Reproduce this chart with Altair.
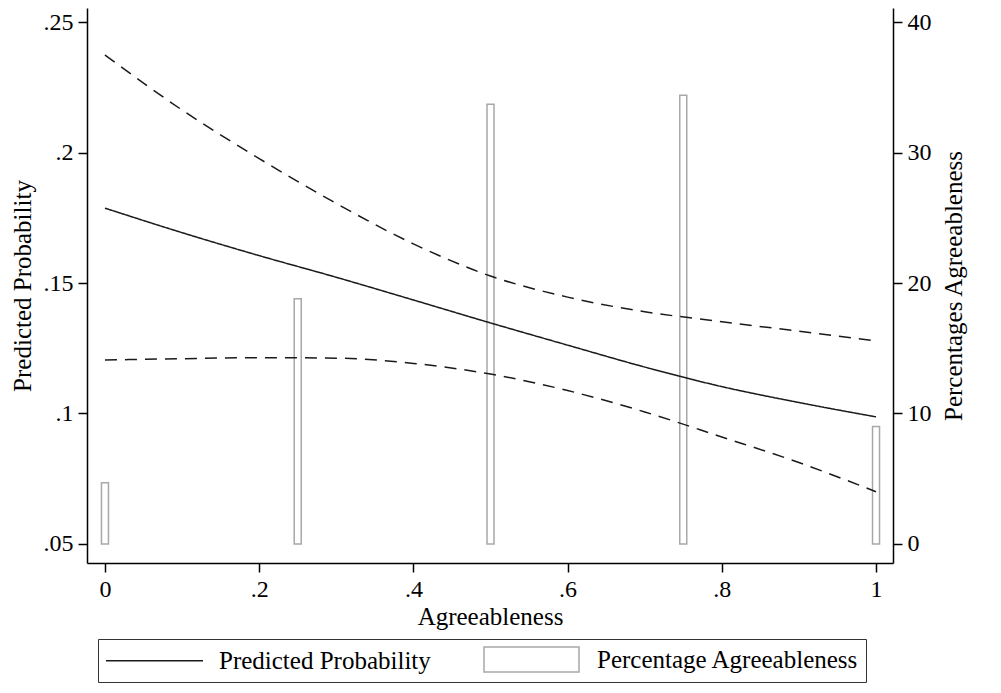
import altair as alt
import pandas as pd

# ---------------- data ----------------
agree_grid = [0.0, 0.1, 0.2, 0.3, 0.4, 0.5, 0.6, 0.7, 0.8, 0.9, 1.0]
pred_prob = [0.1787, 0.1693, 0.1605, 0.1522, 0.1435, 0.1347, 0.1262, 0.1178, 0.1103, 0.1042, 0.0987]
ci_upper = [0.2374, 0.2163, 0.1977, 0.1805, 0.1650, 0.1527, 0.1446, 0.1390, 0.1352, 0.1315, 0.1278]
ci_lower = [0.1205, 0.1210, 0.1214, 0.1212, 0.1192, 0.1151, 0.1088, 0.1006, 0.0910, 0.0812, 0.0700]

bar_x = [0.0, 0.25, 0.5, 0.75, 1.0]
bar_pct = [4.7, 18.8, 33.7, 34.4, 9.0]

legend_labels = ["Predicted Probability", "Percentage Agreeableness"]
x_ticks = [0, 0.2, 0.4, 0.6, 0.8, 1]
y_ticks = [0.05, 0.1, 0.15, 0.2, 0.25]
pct_ticks = [0, 10, 20, 30, 40]

rows = []
for name, vals in (("pred", pred_prob), ("upper", ci_upper), ("lower", ci_lower)):
    for x, v in zip(agree_grid, vals):
        rows.append({"x": x, "p": v, "series": name})
lines_df = pd.DataFrame(rows)
bars_df = pd.DataFrame({"x": bar_x, "pct": bar_pct, "base": [0] * len(bar_x)})
leg_df = pd.DataFrame({"series": legend_labels})

# ---------------- scales ----------------
XDOM = [-0.0233, 1.022]
YDOM = [0.0427, 0.2554]
PDOM = [(YDOM[0] - 0.05) * 200, (YDOM[1] - 0.05) * 200]

FONT = "Liberation Serif"

xscale = alt.Scale(domain=XDOM, nice=False, zero=False, padding=0)
xaxis = alt.Axis(
    values=x_ticks,
    title="Agreeableness",
    titlePadding=3,
    labelExpr="datum.value == 0 || datum.value == 1 ? format(datum.value, 'd') : slice(format(datum.value, '.1~f'), 1)",
)

bars = alt.Chart(bars_df).mark_bar(
    size=7, filled=False, color="#a8a8a8", strokeWidth=1.5
).encode(
    x=alt.X("x:Q", scale=xscale, axis=xaxis),
    y=alt.Y(
        "pct:Q",
        scale=alt.Scale(domain=PDOM, nice=False, zero=False),
        axis=alt.Axis(
            orient="right",
            values=pct_ticks,
            format="d",
            title="Percentages Agreeableness",
            titleAngle=270,
            titleBaseline="top",
            titlePadding=10,
        ),
    ),
    y2="base:Q",
)

lines = alt.Chart(lines_df).mark_line(
    strokeWidth=1.5, color="#1a1a1a", interpolate="monotone"
).encode(
    x=alt.X("x:Q", scale=xscale, axis=xaxis),
    y=alt.Y(
        "p:Q",
        scale=alt.Scale(domain=YDOM, nice=False, zero=False),
        axis=alt.Axis(
            orient="left",
            values=y_ticks,
            title="Predicted Probability",
            titlePadding=8,
            labelExpr="slice(format(datum.value, '.2~f'), 1)",
        ),
    ),
    strokeDash=alt.StrokeDash(
        "series:N",
        scale=alt.Scale(domain=["pred", "upper", "lower"], range=[[1, 0], [12, 8], [12, 8]]),
        legend=None,
    ),
)

LINE_PATH = "M-1,0H6.76"
RECT_PATH = "M-1,-1H6.6V1H-1Z"

leg = alt.Legend(
    orient="none",
    legendX=11,
    legendY=631,
    direction="horizontal",
    title=None,
    labelFont=FONT,
    labelFontSize=25,
    labelColor="black",
    labelLimit=0,
    labelOffset=87,
    symbolOffset=0,
    symbolSize=625,
    symbolOpacity=1,
    symbolStrokeWidth=1.5,
    symbolFillColor="transparent",
    columnPadding=50,
    padding=7,
    strokeColor="#333333",
)

legend_layer = alt.Chart(leg_df).mark_point(filled=False, opacity=0, size=625).encode(
    shape=alt.Shape(
        "series:N",
        scale=alt.Scale(domain=legend_labels, range=[LINE_PATH, RECT_PATH]),
        legend=leg,
    ),
    stroke=alt.Stroke(
        "series:N",
        scale=alt.Scale(domain=legend_labels, range=["#1a1a1a", "#a8a8a8"]),
        legend=leg,
    ),
)

chart = (
    alt.layer(bars, lines, legend_layer)
    .resolve_scale(y="independent")
    .properties(
        width=806,
        height=555,
        autosize=alt.AutoSizeParams(type="none"),
        padding={"left": 79, "top": 0, "right": 100, "bottom": 122},
        background="white",
    )
    .configure_view(strokeWidth=0)
    .configure_axis(
        domainColor="black",
        domainWidth=1.5,
        tickColor="black",
        tickWidth=1.5,
        tickSize=9,
        labelFont=FONT,
        labelFontSize=24,
        labelColor="black",
        labelPadding=5,
        labelFlush=False,
        labelOverlap=False,
        titleFont=FONT,
        titleFontSize=25,
        titleFontWeight="normal",
        titleColor="black",
        titlePadding=10,
        grid=False,
    )
)

chart.save("out.html", embed_options={"renderer": "svg", "actions": False})
